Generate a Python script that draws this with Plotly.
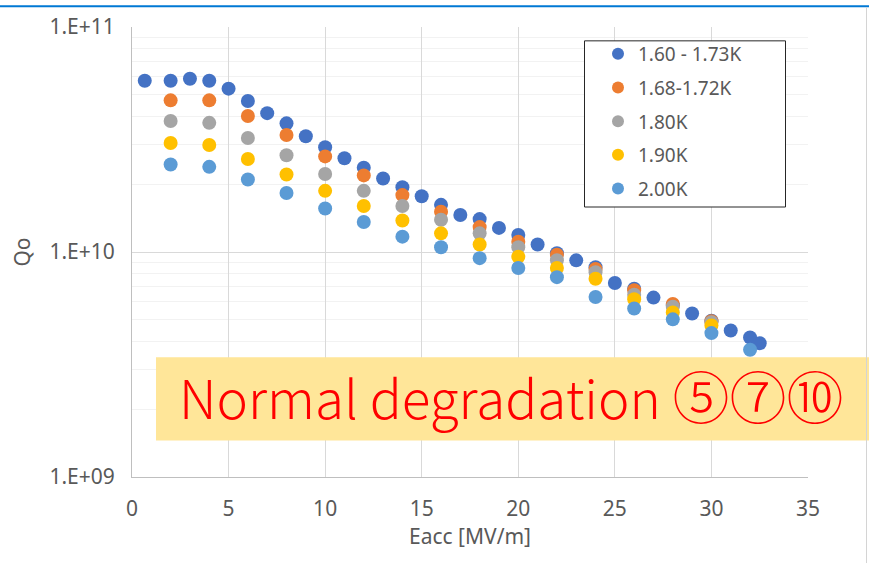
import plotly.graph_objects as go

# Qo vs Eacc at several bath temperatures
eacc_160 = [0.66, 2, 3, 4, 5, 6, 7, 8, 9, 10, 11, 12, 13, 14, 15, 16, 17, 18, 19, 20,
            21, 22, 23, 24, 25, 26, 27, 28, 29, 30, 31, 32, 32.5]
qo_160 = [5.77e10, 5.77e10, 5.89e10, 5.77e10, 5.32e10, 4.69e10, 4.14e10, 3.73e10, 3.27e10,
          2.92e10, 2.61e10, 2.37e10, 2.12e10, 1.94e10, 1.77e10, 1.62e10, 1.46e10, 1.40e10,
          1.28e10, 1.19e10, 1.08e10, 9.88e9, 9.18e9, 8.55e9, 7.28e9, 6.87e9, 6.27e9, 5.80e9,
          5.33e9, 4.95e9, 4.48e9, 4.17e9, 3.93e9]

eacc_step = [2, 4, 6, 8, 10, 12, 14, 16, 18, 20, 22, 24, 26, 28, 30]
qo_168 = [4.72e10, 4.72e10, 4.02e10, 3.31e10, 2.66e10, 2.19e10, 1.79e10, 1.51e10, 1.29e10,
          1.11e10, 9.73e9, 8.40e9, 6.76e9, 5.88e9, 4.92e9]
qo_180 = [3.82e10, 3.75e10, 3.21e10, 2.69e10, 2.22e10, 1.87e10, 1.60e10, 1.39e10, 1.21e10,
          1.05e10, 9.20e9, 8.13e9, 6.46e9, 5.71e9, 4.87e9]
qo_190 = [3.05e10, 2.99e10, 2.59e10, 2.21e10, 1.87e10, 1.60e10, 1.38e10, 1.21e10, 1.08e10,
          9.53e9, 8.49e9, 7.60e9, 6.17e9, 5.39e9, 4.71e9]

eacc_200 = [2, 4, 6, 8, 10, 12, 14, 16, 18, 20, 22, 24, 26, 28, 30, 32]
qo_200 = [2.45e10, 2.39e10, 2.10e10, 1.83e10, 1.56e10, 1.36e10, 1.17e10, 1.05e10, 9.39e9,
          8.49e9, 7.73e9, 6.31e9, 5.61e9, 5.02e9, 4.36e9, 3.68e9]

series = [
    ("1.60 - 1.73K", eacc_160, qo_160, "#4472C4"),
    ("1.68-1.72K", eacc_step, qo_168, "#ED7D31"),
    ("1.80K", eacc_step, qo_180, "#A5A5A5"),
    ("1.90K", eacc_step, qo_190, "#FFC000"),
    ("2.00K", eacc_200, qo_200, "#5B9BD5"),
]

y_tick_vals = [1e9, 1e10, 1e11]
y_tick_text = ["1.E+09", "1.E+10", "1.E+11"]
x_tick_vals = [0, 5, 10, 15, 20, 25, 30, 35]

caption = "Normal degradation"
caption_marks = "⑤⑦⑩"

W, H = 869, 564
ML, MR, MT, MB = 132, 61, 22, 87
PW, PH = W - ML - MR, H - MT - MB


def px(x):
    return (x - ML) / PW


def py(y):
    return (H - MB - y) / PH


TXT = "#595959"
FONT = "Noto Sans"

fig = go.Figure()
for i, (name, xs, ys, col) in enumerate(series):
    fig.add_trace(go.Scatter(
        x=xs, y=ys, mode="markers", name=name, legendgroup=f"g{i}",
        marker=dict(size=14, color=col, line=dict(width=0)),
    ))

minor_vals = [m * 10 ** e for e in (9, 10) for m in range(2, 10)]

fig.update_layout(
    width=W, height=H,
    margin=dict(l=ML, r=MR, t=MT, b=MB),
    paper_bgcolor="white", plot_bgcolor="white",
    font=dict(family=FONT, size=21, color=TXT),
    showlegend=True,
    legend=dict(
        x=px(598), y=py(30), xanchor="left", yanchor="top",
        bgcolor="rgba(0,0,0,0)", borderwidth=0,
        font=dict(size=19, color=TXT, family=FONT),
        tracegroupgap=6, itemsizing="constant",
    ),
    xaxis=dict(
        range=[0, 35], tickvals=x_tick_vals, showgrid=True, gridcolor="#D9D9D9",
        gridwidth=1, showline=True, linecolor="#BFBFBF", linewidth=1, zeroline=False,
        ticks="outside", ticklen=13, tickcolor="rgba(0,0,0,0)",
        title=dict(text="Eacc [MV/m]", standoff=8, font=dict(size=21, color=TXT)),
    ),
    yaxis=dict(
        type="log", range=[9, 11], tickvals=y_tick_vals, ticktext=y_tick_text,
        showgrid=True, gridcolor="#D9D9D9", gridwidth=1,
        showline=True, linecolor="#BFBFBF", linewidth=1, zeroline=False,
        ticks="outside", ticklen=12, tickcolor="rgba(0,0,0,0)",
        minor=dict(tickmode="array", tickvals=minor_vals, showgrid=True,
                   gridcolor="#F2F2F2", gridwidth=1, ticks=""),
        title=dict(text="Qo", standoff=13, font=dict(size=21, color=TXT)),
    ),
)

# legend frame
fig.add_shape(type="rect", xref="paper", yref="paper",
              x0=px(584.5), x1=px(785.5), y0=py(204), y1=py(36),
              line=dict(color="#262626", width=1), fillcolor="white", layer="above")

# highlighted caption
fig.add_shape(type="rect", xref="paper", yref="paper",
              x0=px(156), x1=px(875), y0=py(440), y1=py(356),
              line=dict(width=0), fillcolor="#FFE699", layer="above")
fig.add_annotation(
    xref="paper", yref="paper", x=px(177), y=py(393), xanchor="left", yanchor="middle",
    text=f"{caption} <span style='font-size:57px'>{caption_marks}</span>", showarrow=False,
    font=dict(family="Noto Sans CJK JP", size=53, weight=300, color="#FF0000"),
)

# outer frame lines
fig.add_shape(type="line", xref="paper", yref="paper",
              x0=px(0), x1=px(W), y0=py(1), y1=py(1),
              line=dict(color="#0078D4", width=2), layer="above")
fig.add_shape(type="line", xref="paper", yref="paper",
              x0=px(866.5), x1=px(866.5), y0=py(2), y1=py(H),
              line=dict(color="#D4D4D4", width=1), layer="above")

fig.write_html("out.html")
